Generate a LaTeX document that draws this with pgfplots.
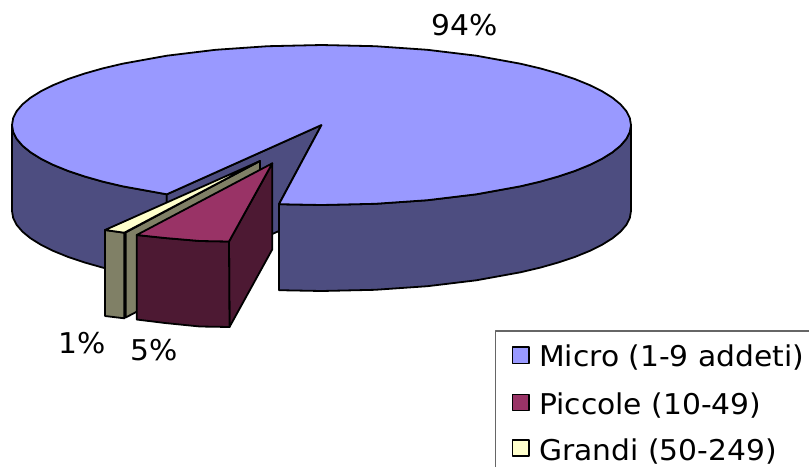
\documentclass[border=0pt]{standalone}
\usepackage{pgfplots}
\usepackage{fontspec}
\setmainfont[FakeStretch=1.04]{DejaVu Sans}
\pgfplotsset{compat=1.18}
\definecolor{microtop}{HTML}{9999FF}
\definecolor{microside}{HTML}{4D4D80}
\definecolor{piccoletop}{HTML}{993366}
\definecolor{piccoleside}{HTML}{4D1933}
\definecolor{granditop}{HTML}{FFFFCC}
\definecolor{grandiside}{HTML}{808066}
\tikzset{lab/.style={font=\fontsize{28.6}{31}\selectfont, anchor=base west, inner sep=0pt, text=black}}
\begin{document}
\begin{tikzpicture}
\begin{axis}[
  scale only axis, width=809pt, height=467pt,
  xmin=0, xmax=809, ymin=0, ymax=467, y dir=reverse,
  hide axis, no marks,
  every axis plot/.append style={draw=black, line width=1.8pt, line join=round}
]
% keeps the whole plotting area inside the page
\addplot[draw=none] coordinates {(0,0)(809,467)};
% outer wall, left of the cut
\addplot[fill=microside] coordinates {(12,125)(13.2,132)(16.7,138.9)(22.5,145.7)(30.7,152.4)(41,158.8)(53.5,165)(68,170.9)(84.4,176.4)(102.7,181.6)(122.6,186.3)(166.8,194.3)
  (166.8,280.3)(122.6,272.3)(102.7,267.6)(84.4,262.4)(68,256.9)(53.5,251)(41,244.8)(30.7,238.4)(22.5,231.7)(16.7,224.9)(13.2,218)(12,211)} -- cycle;
% inner walls of the cut
\addplot[fill=microside] coordinates {(166.8,194.3)(321.5,125)(279,204)(279,231)(166.8,281)} -- cycle;
% outer wall, right of the cut
\addplot[fill=microside] coordinates {(279,204.2)(321.5,205)(375.2,203.8)(427.4,200.2)(476.3,194.3)(520.4,186.3)(540.3,181.6)(558.6,176.4)(575,170.9)(589.5,165)(602,158.8)(612.3,152.4)(620.5,145.7)(626.3,138.9)(629.8,132)(631,125)
  (631,211)(629.8,218)(626.3,224.9)(620.5,231.7)(612.3,238.4)(602,244.8)(589.5,251)(575,256.9)(558.6,262.4)(540.3,267.6)(520.4,272.3)(476.3,280.3)(427.4,286.2)(375.2,289.8)(321.5,291)(279,290.2)} -- cycle;
% Micro: top face
\addplot[fill=microtop] coordinates {(321.5,125)(279,204.2)(321.5,205)(375.2,203.8)(427.4,200.2)(476.3,194.3)(520.4,186.3)(540.3,181.6)(558.6,176.4)(575,170.9)(589.5,165)(602,158.8)(612.3,152.4)(620.5,145.7)(626.3,138.9)(629.8,132)(631,125)
  (629.8,118)(626.3,111.1)(620.5,104.3)(612.3,97.6)(602,91.2)(589.5,85)(575,79.1)(558.6,73.6)(540.3,68.4)(520.4,63.7)(476.3,55.7)(427.4,49.8)(375.2,46.2)(321.5,45)(267.8,46.2)(215.6,49.8)(166.8,55.7)(122.6,63.7)(102.7,68.4)(84.4,73.6)(68,79.1)(53.5,85)(41,91.2)(30.7,97.6)(22.5,104.3)(16.7,111.1)(13.2,118)(12,125)
  (13.2,132)(16.7,138.9)(22.5,145.7)(30.7,152.4)(41,158.8)(53.5,165)(68,170.9)(84.4,176.4)(102.7,181.6)(122.6,186.3)(166.8,194.3)} -- cycle;
% Grandi: walls and top face
\addplot[fill=grandiside] coordinates {(125.7,232.5)(260,161)(260,247)(125.7,317.5)} -- cycle;
\addplot[fill=grandiside] coordinates {(105,230)(124.3,232.7)(124.3,318.3)(105,316)} -- cycle;
\addplot[fill=granditop] coordinates {(105,230)(260,161)(124.3,232.7)} -- cycle;
% Piccole: walls and top face
\addplot[fill=piccoleside] coordinates {(229,241.5)(272.3,163.3)(272.3,249.3)(229.5,327)} -- cycle;
\addplot[fill=piccoleside] coordinates {(136.7,235)(165,238)(200,241)(229,241.5)(229.5,327)(200,326.5)(165,323)(136.7,319.5)} -- cycle;
\addplot[fill=piccoletop] coordinates {(136.7,235)(272.3,163.3)(229,241.5)(200,241)(165,238)} -- cycle;
% legend frame, running off the page on the right and at the bottom
\addplot[draw=black!60, line width=1.2pt] coordinates {(495.7,467)(495.7,331)(809,331)};
% legend keys
\addplot[fill=microtop, line width=1.3pt] coordinates {(512.5,347)(529,347)(529,363.3)(512.5,363.3)} -- cycle;
\addplot[fill=piccoletop, line width=1.3pt] coordinates {(512.5,394.3)(529,394.3)(529,410.7)(512.5,410.7)} -- cycle;
\addplot[fill=granditop, line width=1.3pt] coordinates {(512.5,440)(529,440)(529,456)(512.5,456)} -- cycle;
\node[lab] at (axis cs:539,366.7) {Micro (1-9 addeti)};
\node[lab] at (axis cs:539,414) {Piccole (10-49)};
\node[lab] at (axis cs:539,460) {Grandi (50-249)};
% percentage labels
\node[lab] at (axis cs:431,35) {94\%};
\node[lab] at (axis cs:58,353) {1\%};
\node[lab] at (axis cs:130,360) {5\%};
\end{axis}
\end{tikzpicture}
\end{document}
